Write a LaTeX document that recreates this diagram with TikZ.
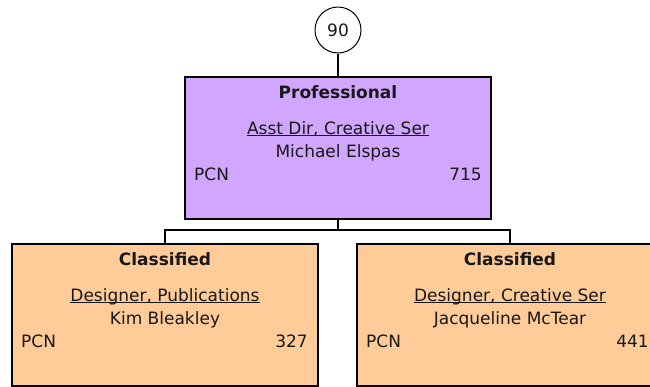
\documentclass[tikz,border=0pt]{standalone}
\usepackage{fontspec}
\setmainfont{DejaVu Sans}
\usetikzlibrary{calc}
\definecolor{profpurple}{RGB}{208,166,255}
\definecolor{classpeach}{RGB}{255,204,153}
\definecolor{inktext}{RGB}{24,24,24}
\newcommand{\myul}[1]{\setbox0\hbox{#1}\rlap{\rule[-1.8pt]{\wd0}{1pt}}\box0}
\begin{document}
\begin{tikzpicture}[x=1pt,y=1pt,
  font=\fontsize{17}{20}\selectfont,
  posbox/.style={draw=black, line width=2pt, minimum width=306pt, minimum height=142pt, inner sep=0pt, anchor=north},
  txt/.style={text=inktext, inner sep=0pt, anchor=base},
  txtl/.style={txt, anchor=base west},
  txtr/.style={txt, anchor=base east},
  conn/.style={draw=black, line width=1.2pt},
  connthick/.style={draw=black, line width=2pt}]
\useasboundingbox (0,0) rectangle (650,-386);
\clip (0,0) rectangle (650,-386);
% head count circle
\node[draw=black, line width=1pt, circle, minimum size=46pt, inner sep=0pt, fill=white, text=inktext] (cnt) at (338,-30) {90};
% boxes
\node[posbox, fill=profpurple] (prof) at (338,-76) {};
\node[posbox, fill=classpeach] (left) at (165,-243) {};
\node[posbox, fill=classpeach] (right) at (510,-243) {};
% connectors
\coordinate (bus) at (338,-230);
\draw[connthick] (cnt.south) -- (prof.north);
\draw[conn] (prof.south) -- (bus);
\draw[conn] (left.north) |- (bus) -| (right.north);
% top box text
\node[txt, font=\fontsize{17}{20}\selectfont\bfseries] (pt) at ($(prof.north)+(0,-22)$) {Professional};
\node[txt] (pj) at ($(prof.north)+(0,-58)$) {\myul{Asst Dir, Creative Ser}};
\node[txt] (pn) at ($(prof.north)+(0,-81)$) {Michael Elspas};
\node[txtl] (pl) at ($(prof.north west)+(10,-104)$) {PCN};
\node[txtr] (pr) at ($(prof.north east)+(-10,-104)$) {715};
% left box text
\node[txt, font=\fontsize{17}{20}\selectfont\bfseries] (lt) at ($(left.north)+(0,-22)$) {Classified};
\node[txt] (lj) at ($(left.north)+(0,-58)$) {\myul{Designer, Publications}};
\node[txt] (ln) at ($(left.north)+(0,-81)$) {Kim Bleakley};
\node[txtl] (ll) at ($(left.north west)+(10,-104)$) {PCN};
\node[txtr] (lr) at ($(left.north east)+(-11,-104)$) {327};
% right box text
\node[txt, font=\fontsize{17}{20}\selectfont\bfseries] (rt) at ($(right.north)+(0,-22)$) {Classified};
\node[txt] (rj) at ($(right.north)+(0,-58)$) {\myul{Designer, Creative Ser}};
\node[txt] (rn) at ($(right.north)+(0,-81)$) {Jacqueline McTear};
\node[txtl] (rl) at ($(right.north west)+(10,-104)$) {PCN};
\node[txtr] (rr) at ($(right.north east)+(-15,-104)$) {441};
\end{tikzpicture}
\end{document}
